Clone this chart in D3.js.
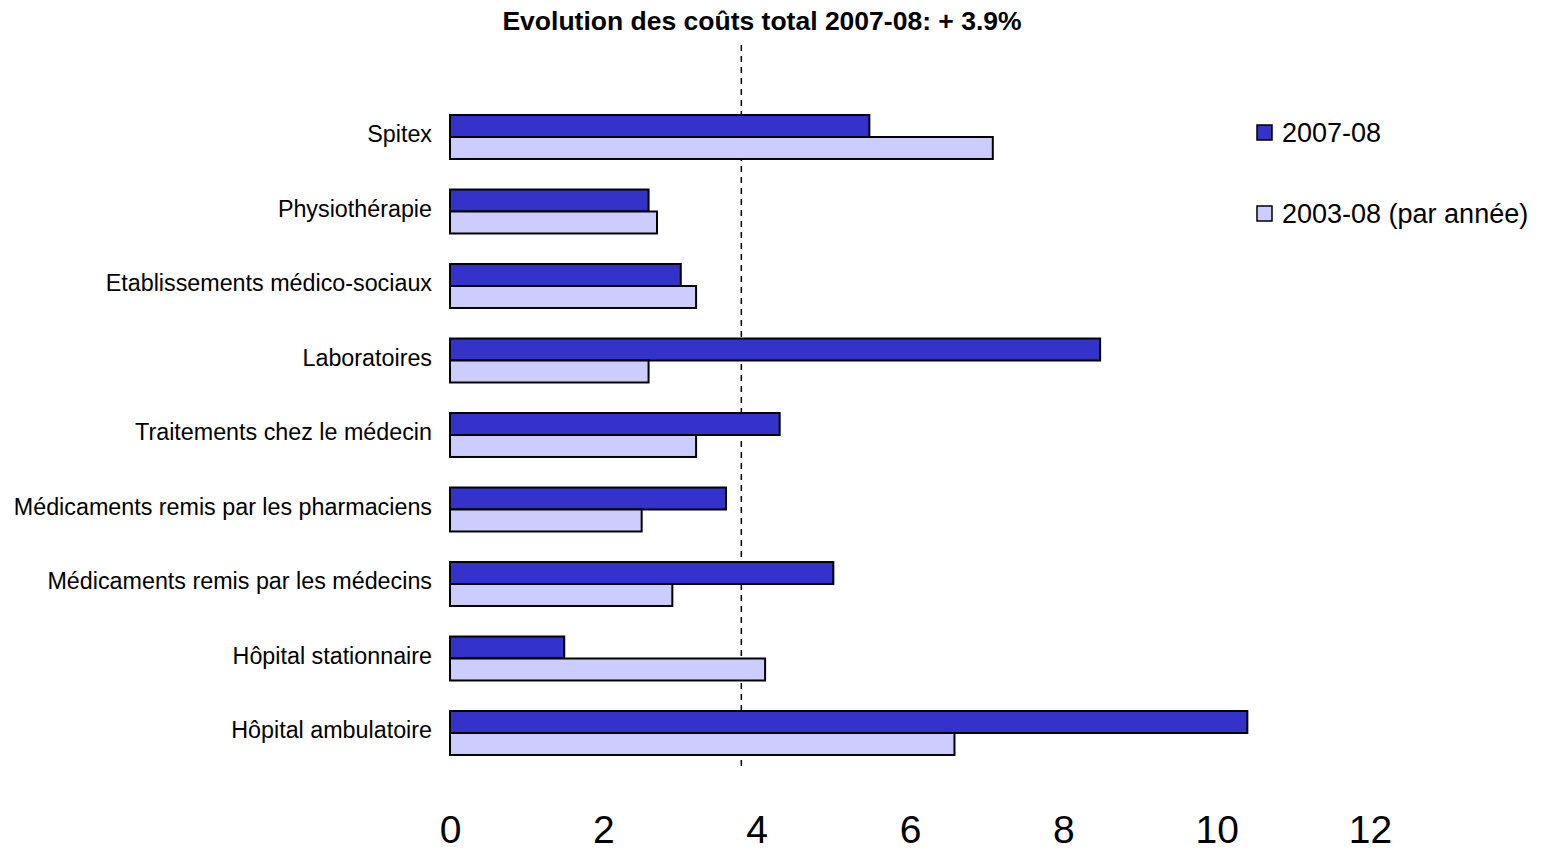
<!DOCTYPE html>
<html>
<head>
<meta charset="utf-8">
<script src="https://cdn.jsdelivr.net/npm/d3@7"></script>
<style>
  body { margin: 0; background: #fff; }
  text { font-family: "Liberation Sans", Arial, sans-serif; }
</style>
</head>
<body>
<div id="chart"></div>
<script>
// catégories, de haut en bas
const categories = [
    "Spitex",
    "Physiothérapie",
    "Etablissements médico-sociaux",
    "Laboratoires",
    "Traitements chez le médecin",
    "Médicaments remis par les pharmaciens",
    "Médicaments remis par les médecins",
    "Hôpital stationnaire",
    "Hôpital ambulatoire"
];
const seriesNames = ["2007-08", "2003-08 (par année)"];
const values2007 = [5.47, 2.59, 3.01, 8.48, 4.3, 3.6, 5.0, 1.49, 10.4];
const values2003 = [7.08, 2.7, 3.21, 2.59, 3.21, 2.5, 2.9, 4.11, 6.58];
const totalLine = 3.8;
const xTicks = [0, 2, 4, 6, 8, 10, 12];
const titleText = "Evolution des coûts total 2007-08: + 3.9%";

const colors = ["#3333cc", "#ccccff"];

const width = 1544, height = 850;

const svg = d3.select("#chart").append("svg")
    .attr("width", width)
    .attr("height", height);

const x = d3.scaleLinear().domain([0, 12]).range([450, 1370]);

const y = d3.scaleBand()
    .domain(categories)
    .range([99.75, 770.25])
    .paddingInner(0.41)
    .paddingOuter(0.205);

const yInner = d3.scaleBand()
    .domain(seriesNames)
    .range([0, y.bandwidth()]);

const rows = categories.map((c, i) => ({ cat: c, vals: [values2007[i], values2003[i]] }));

// titre
svg.append("text")
    .attr("x", 762)
    .attr("y", 30)
    .attr("text-anchor", "middle")
    .style("font-size", "26.5px")
    .style("font-weight", "bold")
    .text(titleText);

// ligne pointillée (évolution totale)
svg.append("line")
    .attr("x1", x(totalLine)).attr("x2", x(totalLine))
    .attr("y1", 45).attr("y2", 768)
    .attr("stroke", "#000")
    .attr("stroke-width", 1.5)
    .attr("stroke-dasharray", "6,5");

// barres
const g = svg.append("g")
    .selectAll("g")
    .data(rows)
    .join("g")
    .attr("transform", d => `translate(0,${y(d.cat)})`);

g.selectAll("rect")
    .data(d => d.vals.map((v, i) => ({ key: seriesNames[i], v: v, i: i })))
    .join("rect")
    .attr("x", x(0))
    .attr("y", d => yInner(d.key))
    .attr("width", d => x(d.v) - x(0))
    .attr("height", yInner.bandwidth())
    .attr("fill", d => colors[d.i])
    .attr("stroke", "#000")
    .attr("stroke-width", 2);

// libellés des catégories
svg.append("g")
    .selectAll("text")
    .data(categories)
    .join("text")
    .attr("x", 432)
    .attr("y", d => y(d) + y.bandwidth() / 2 - 3)
    .attr("dy", "0.35em")
    .attr("text-anchor", "end")
    .style("font-size", "23.3px")
    .text(d => d);

// axe x, seulement les étiquettes
const xAxis = svg.append("g")
    .attr("transform", "translate(0,800)")
    .call(d3.axisBottom(x).tickValues(xTicks).tickSize(0).tickPadding(0));
xAxis.select(".domain").remove();
xAxis.selectAll("text")
    .attr("dy", "1.1em")
    .style("font-size", "39px")
    .style("font-family", "'Liberation Sans', Arial, sans-serif")
    .attr("fill", "#000");

// légende
const legend = svg.append("g")
    .selectAll("g")
    .data(seriesNames)
    .join("g")
    .attr("transform", (d, i) => `translate(1257,${133 + i * 81})`);

legend.append("rect")
    .attr("x", 0)
    .attr("y", -8)
    .attr("width", 15)
    .attr("height", 15)
    .attr("fill", (d, i) => colors[i])
    .attr("stroke", "#000")
    .attr("stroke-width", 1.5);

legend.append("text")
    .attr("x", 25)
    .attr("y", 0)
    .attr("dy", "0.35em")
    .style("font-size", "27px")
    .text(d => d);
</script>
</body>
</html>
